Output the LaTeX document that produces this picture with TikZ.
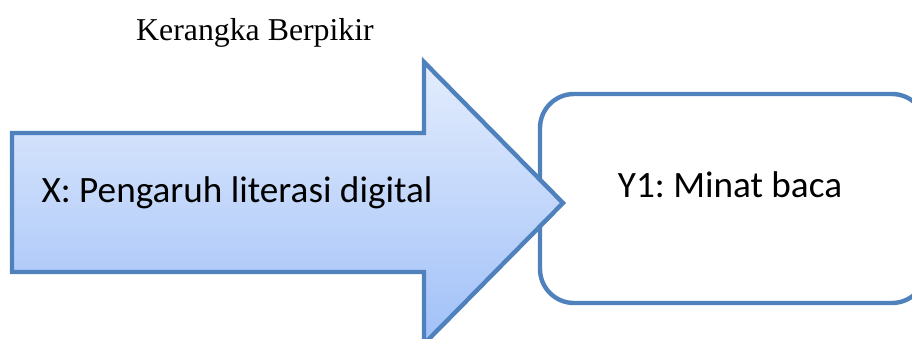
\documentclass[tikz,border=0pt]{standalone}
\usepackage{fontspec}
\setmainfont{Liberation Serif}
\newfontfamily\calibri{Carlito}
\definecolor{edgeblue}{RGB}{79,129,189}
\definecolor{lightblue}{RGB}{228,237,253}
\definecolor{deepblue}{RGB}{160,192,248}
\frenchspacing

\begin{document}
\begin{tikzpicture}[x=0.5pt,y=-0.5pt]
\tikzstyle{every node}+=[inner sep=0pt]
\tikzstyle{label}=[font=\calibri\fontsize{18.6}{22}\selectfont, anchor=base]
\useasboundingbox (0,0) rectangle (912,338);
\clip (0,0) rectangle (912,338);
% title
\draw (255,40) node (title) [font=\fontsize{15.9}{19}\selectfont, anchor=base] {Kerangka Berpikir};
% target box
\draw (733,198.5) node (minat) [draw=edgeblue, line width=2.2pt, fill=white, rounded corners=17pt,
  minimum width=193pt, minimum height=104.5pt] {};
\draw (730,197) node (minattext) [label] {Y1: Minat baca};
% the big arrow
\draw [edgeblue, line width=2.2pt, line join=miter, top color=lightblue, bottom color=deepblue]
  (12,133) -- (424,133) -- (424,62) -- (563,203) -- (424,344) -- (424,272) -- (12,272) -- cycle;
\draw (237,202) node (pengaruh) [label] {X: Pengaruh literasi digital};
\end{tikzpicture}
\end{document}
